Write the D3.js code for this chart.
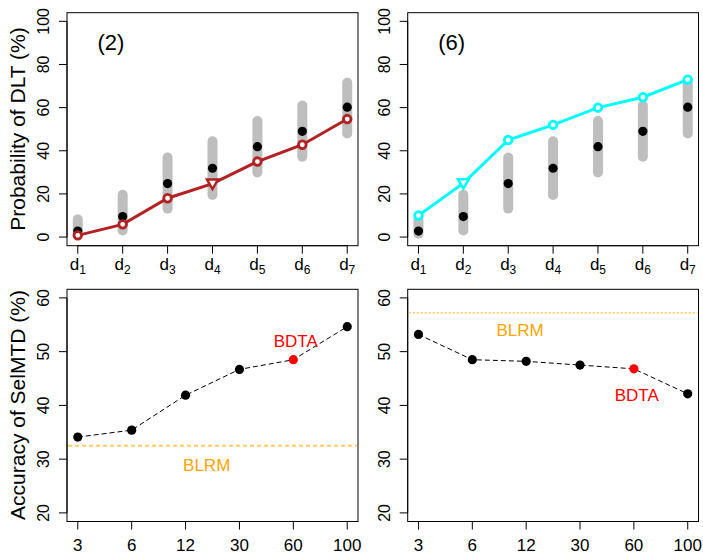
<!DOCTYPE html>
<html>
<head>
<meta charset="utf-8">
<script src="https://cdn.jsdelivr.net/npm/d3@7"></script>
<style>
  body { margin: 0; background: #fff; }
  text { font-family: "Liberation Sans", Arial, sans-serif; }
</style>
</head>
<body>
<svg id="chart" width="703" height="553"></svg>
<script>
// dose levels and true / estimated DLT probabilities (%)
var doses = ["1", "2", "3", "4", "5", "6", "7"];
var truePoint = [2.8, 9.5, 24.8, 31.9, 41.9, 49, 60.2];
var barLow = [1.5, 3.1, 13.2, 19.5, 29.9, 37.2, 48];
var barHigh = [8.2, 19.6, 36.9, 44.4, 53.8, 61, 71.5];
var scen2 = [0.8, 5.9, 18, 24.8, 35, 42.8, 54.7];
var scen6 = [10, 25, 45, 52, 60, 64.8, 73];
var mtd2 = 3;   // index of triangle marker
var mtd6 = 1;

// accuracy of selected MTD
var sizes = ["3", "6", "12", "30", "60", "100"];
var acc2 = [34.1, 35.4, 41.9, 46.7, 48.5, 54.65];
var acc6 = [53.2, 48.5, 48.2, 47.5, 46.8, 42.15];
var blrm2 = 32.5, blrm6 = 57.2;
var bdtaIdx = 4;

var svg = d3.select("#chart");

var topY = d3.scaleLinear().domain([-4, 104]).range([245.7, 12.7]);
var botY = d3.scaleLinear().domain([18.4, 61.6]).range([521.5, 289.3]);
var cols = [[67, 358], [407.7, 698.5]];

function frame(x0, x1, y) {
  var r = y.range();
  svg.append("rect")
    .attr("x", x0).attr("y", r[1])
    .attr("width", x1 - x0).attr("height", r[0] - r[1])
    .attr("fill", "none").attr("stroke", "#000").attr("stroke-width", 1);
}

function yAxis(x0, y, ticks) {
  var g = svg.append("g")
    .attr("transform", "translate(" + x0 + ",0)");
  var ax = d3.axisLeft(y).tickValues(ticks).tickSize(8).tickSizeOuter(0);
  g.call(ax);
  g.select(".domain").attr("d", "M0," + y(ticks[0]) + "V" + y(ticks[ticks.length - 1]));
  g.selectAll(".tick line").attr("stroke", "#000");
  g.selectAll(".tick text")
    .attr("x", 0).attr("dy", 0)
    .attr("transform", function(d) { return "translate(-18," + y(d) + ") rotate(-90)"; })
    .attr("y", 0)
    .style("text-anchor", "middle")
    .style("font-size", "16px")
    .attr("fill", "#000");
  g.selectAll(".tick").attr("transform", null);
  g.selectAll(".tick line").attr("y1", function(d) { return y(d); }).attr("y2", function(d) { return y(d); });
}

function topPanel(k, vals, mtd, color, label) {
  var x0 = cols[k][0], x1 = cols[k][1];
  var x = d3.scaleLinear().domain([-0.24, 6.24]).range([x0, x1]);
  frame(x0, x1, topY);
  yAxis(x0, topY, [0, 20, 40, 60, 80, 100]);

  // x axis with d subscripts
  var bottom = topY.range()[0];
  var xa = svg.append("g").attr("transform", "translate(0," + bottom + ")");
  xa.append("path").attr("d", "M" + x(0) + ",0H" + x(6)).attr("stroke", "#000").attr("fill", "none");
  doses.forEach(function(d, i) {
    xa.append("line").attr("x1", x(i)).attr("x2", x(i)).attr("y1", 0).attr("y2", 8).attr("stroke", "#000");
    var t = xa.append("text").attr("x", x(i)).attr("y", 24)
      .style("font-size", "17px").style("text-anchor", "middle");
    t.append("tspan").text("d");
    t.append("tspan").attr("dy", 4).style("font-size", "12px").text(d);
  });

  // grey intervals
  svg.selectAll(null).data(doses).enter().append("line")
    .attr("x1", function(d, i) { return x(i); })
    .attr("x2", function(d, i) { return x(i); })
    .attr("y1", function(d, i) { return topY(barLow[i]); })
    .attr("y2", function(d, i) { return topY(barHigh[i]); })
    .attr("stroke", "#bebebe").attr("stroke-width", 10).attr("stroke-linecap", "round");

  svg.selectAll(null).data(truePoint).enter().append("circle")
    .attr("cx", function(d, i) { return x(i); })
    .attr("cy", function(d) { return topY(d); })
    .attr("r", 4.6).attr("fill", "#000");

  var line = d3.line()
    .x(function(d, i) { return x(i); })
    .y(function(d) { return topY(d); });
  svg.append("path").datum(vals)
    .attr("d", line)
    .attr("fill", "none").attr("stroke", color).attr("stroke-width", 3);

  vals.forEach(function(v, i) {
    if (i === mtd) {
      var cx = x(i), cy = topY(v);
      svg.append("path")
        .attr("d", "M" + (cx - 5.5) + "," + (cy - 4) + "L" + (cx + 5.5) + "," + (cy - 4) + "L" + cx + "," + (cy + 5.5) + "Z")
        .attr("fill", "#fff").attr("stroke", color).attr("stroke-width", 2.5);
    } else {
      svg.append("circle")
        .attr("cx", x(i)).attr("cy", topY(v)).attr("r", 3.8)
        .attr("fill", "#fff").attr("stroke", color).attr("stroke-width", 2.8);
    }
  });

  svg.append("text")
    .attr("x", x0 + 44).attr("y", 50)
    .style("font-size", "22px").style("text-anchor", "middle")
    .text(label);
}

function bottomPanel(k, vals, blrm, blrmStyle, blrmLab, bdtaLab) {
  var x0 = cols[k][0], x1 = cols[k][1];
  var x = d3.scaleLinear().domain([-0.2, 5.2]).range([x0, x1]);
  frame(x0, x1, botY);
  yAxis(x0, botY, [20, 30, 40, 50, 60]);

  var bottom = botY.range()[0];
  var xa = svg.append("g").attr("transform", "translate(0," + bottom + ")");
  xa.append("path").attr("d", "M" + x(0) + ",0H" + x(5)).attr("stroke", "#000").attr("fill", "none");
  sizes.forEach(function(s, i) {
    xa.append("line").attr("x1", x(i)).attr("x2", x(i)).attr("y1", 0).attr("y2", 8).attr("stroke", "#000");
    xa.append("text").attr("x", x(i)).attr("y", 29)
      .style("font-size", "17px").style("text-anchor", "middle").text(s);
  });

  svg.append("line")
    .attr("x1", x0 + 1).attr("x2", x1 - 1)
    .attr("y1", botY(blrm)).attr("y2", botY(blrm))
    .attr("stroke", blrmStyle.color).attr("stroke-width", blrmStyle.width)
    .attr("stroke-dasharray", blrmStyle.dash);

  var line = d3.line()
    .x(function(d, i) { return x(i); })
    .y(function(d) { return botY(d); });
  svg.append("path").datum(vals)
    .attr("d", line)
    .attr("fill", "none").attr("stroke", "#000").attr("stroke-width", 1)
    .attr("stroke-dasharray", "5,3");

  svg.selectAll(null).data(vals).enter().append("circle")
    .attr("cx", function(d, i) { return x(i); })
    .attr("cy", function(d) { return botY(d); })
    .attr("r", 4.6)
    .attr("fill", function(d, i) { return i === bdtaIdx ? "#ff0000" : "#000"; });

  svg.append("text")
    .attr("x", blrmLab[0]).attr("y", blrmLab[1])
    .style("font-size", "17px").style("text-anchor", "middle")
    .attr("fill", "#ffa500").text("BLRM");
  svg.append("text")
    .attr("x", bdtaLab[0]).attr("y", bdtaLab[1])
    .style("font-size", "17px").style("text-anchor", "middle")
    .attr("fill", "#ff0000").text("BDTA");
}

topPanel(0, scen2, mtd2, "#b22222", "(2)");
topPanel(1, scen6, mtd6, "#00ffff", "(6)");
bottomPanel(0, acc2, blrm2, { color: "#ffcc66", width: 2, dash: "4,3" }, [206.7, 470.5], [295.7, 346.5]);
bottomPanel(1, acc6, blrm6, { color: "#ffa500", width: 1, dash: "2,2" }, [520, 335.5], [636.7, 400.5]);

// axis titles
svg.append("text")
  .attr("transform", "translate(25,129) rotate(-90)")
  .style("font-size", "21px").style("text-anchor", "middle")
  .text("Probability of DLT (%)");
svg.append("text")
  .attr("transform", "translate(25,405) rotate(-90)")
  .style("font-size", "21px").style("text-anchor", "middle")
  .text("Accuracy of SelMTD (%)");
</script>
</body>
</html>
